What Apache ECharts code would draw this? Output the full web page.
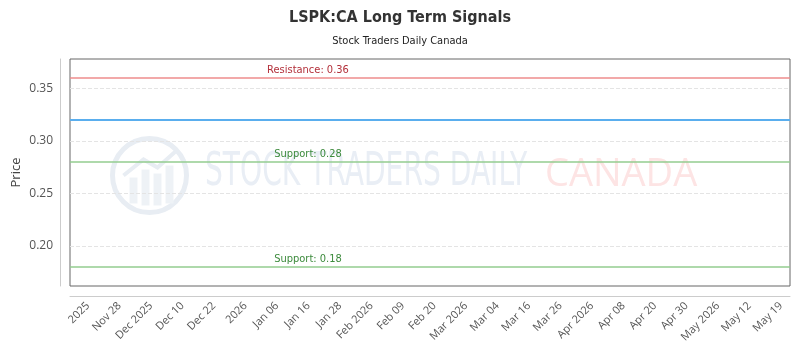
<!DOCTYPE html>
<html>
<head>
<meta charset="utf-8">
<script src="https://cdn.jsdelivr.net/npm/echarts@6/dist/echarts.min.js"></script>
<style>
  html, body { margin: 0; padding: 0; background: #fff; }
  #chart { width: 800px; height: 350px; }
</style>
</head>
<body>
<div id="chart"></div>
<script>
// tick labels as printed under the x axis
const tickLabels = ['2025', 'Nov 28', 'Dec 2025', 'Dec 10', 'Dec 22', '2026', 'Jan 06', 'Jan 16',
  'Jan 28', 'Feb 2026', 'Feb 09', 'Feb 20', 'Mar 2026', 'Mar 04', 'Mar 16', 'Mar 26',
  'Apr 2026', 'Apr 08', 'Apr 20', 'Apr 30', 'May 2026', 'May 12', 'May 19'];

// signal levels
const priceLevel = 0.32;
const levelNames = ['Resistance', 'Support', 'Support'];
const levelValues = [0.36, 0.28, 0.18];

// daily slots between labels (labels sit every 7th slot)
const slotsPerTick = 7;
const leadSlots = 4;
const tailSlots = 2;

const condensed = '"DejaVu Sans Condensed", Roboto, sans-serif';

const categories = [];
for (let i = 0; i < leadSlots; i += 1) categories.push(`_${categories.length}`);
tickLabels.forEach((label, idx) => {
  categories.push(label);
  if (idx < tickLabels.length - 1) {
    for (let j = 1; j < slotsPerTick; j += 1) categories.push(`_${categories.length}`);
  }
});
for (let i = 0; i < tailSlots; i += 1) categories.push(`_${categories.length}`);

const levelColors = {
  Resistance: { line: '#ee8c8c', text: '#b3303a' },
  Support: { line: '#93cc8f', text: '#3c8a3c' },
};

const markData = levelValues.map((v, i) => ({
  yAxis: v,
  lineStyle: { color: levelColors[levelNames[i]].line, width: 1.5, type: 'solid' },
  label: {
    show: true,
    formatter: `${levelNames[i]}: ${v.toFixed(2)}`,
    position: 'insideStartTop',
    distance: [238, 2],
    align: 'center',
    color: levelColors[levelNames[i]].text,
    fontSize: 11,
    fontFamily: condensed,
  },
}));
markData.push({
  yAxis: priceLevel,
  lineStyle: { color: '#5aaeee', width: 2, type: 'solid' },
  label: { show: false },
});

const myChart = echarts.init(document.getElementById('chart'));

const option = {
  animation: false,
  title: {
    text: 'LSPK:CA Long Term Signals',
    subtext: 'Stock Traders Daily Canada',
    left: 'center',
    top: 5,
    itemGap: 10,
    textStyle: { fontSize: 16, fontWeight: 'bold', color: '#333', fontFamily: condensed },
    subtextStyle: { fontSize: 11, color: '#222', fontFamily: condensed },
  },
  graphic: [
    {
      type: 'group',
      left: 110,
      top: 136,
      silent: true,
      z: 0,
      children: [
        { type: 'circle', shape: { cx: 40, cy: 40, r: 37 }, style: { fill: 'none', stroke: '#e8edf3', lineWidth: 5 } },
        { type: 'rect', shape: { x: 20, y: 42, width: 8, height: 26 }, style: { fill: '#eef2f6' } },
        { type: 'rect', shape: { x: 32, y: 34, width: 8, height: 36 }, style: { fill: '#eef2f6' } },
        { type: 'rect', shape: { x: 44, y: 38, width: 8, height: 32 }, style: { fill: '#eef2f6' } },
        { type: 'rect', shape: { x: 56, y: 30, width: 8, height: 38 }, style: { fill: '#eef2f6' } },
        { type: 'polyline', shape: { points: [[14, 40], [34, 24], [48, 32], [66, 16]] }, style: { stroke: '#e8edf3', lineWidth: 4, fill: 'none' } },
      ],
    },
    {
      type: 'text',
      x: 205,
      y: 150,
      scaleX: 0.68,
      silent: true,
      z: 0,
      style: { text: 'STOCK TRADERS DAILY', fontSize: 46, fontFamily: condensed, fill: '#e9eef5' },
    },
    {
      type: 'text',
      x: 545,
      y: 156,
      silent: true,
      z: 0,
      style: { text: 'CANADA', fontSize: 38, fontFamily: 'Open Sans', fill: '#fde4e4' },
    },
  ],
  grid: {
    left: 70,
    right: 10,
    top: 59,
    bottom: 64,
    outerBoundsMode: 'none',
    containLabel: false,
    show: true,
    borderColor: '#666',
    borderWidth: 1,
    backgroundColor: 'transparent',
  },
  xAxis: {
    type: 'category',
    data: categories,
    boundaryGap: false,
    offset: 10,
    axisLine: { show: true, lineStyle: { color: '#ccc' } },
    axisTick: { show: false },
    splitLine: { show: false },
    axisLabel: {
      interval(index, value) {
        return value.charAt(0) !== '_';
      },
      rotate: 45,
      margin: 8,
      color: '#555',
      fontSize: 11,
      fontFamily: 'Open Sans',
    },
  },
  yAxis: {
    type: 'value',
    min: 0.162,
    max: 0.378,
    offset: 10,
    name: 'Price',
    nameLocation: 'middle',
    nameGap: 37,
    nameMoveOverlap: false,
    nameTextStyle: { color: '#444', fontSize: 13, fontFamily: 'Open Sans' },
    axisLine: { show: true, lineStyle: { color: '#ccc' } },
    axisTick: { show: false },
    axisLabel: {
      showMinLabel: false,
      showMaxLabel: false,
      margin: 7,
      color: '#555',
      fontSize: 12,
      fontFamily: 'Open Sans',
      formatter(value) {
        return value.toFixed(2);
      },
    },
    splitLine: {
      show: true,
      showMinLine: false,
      showMaxLine: false,
      lineStyle: { color: '#e4e4e4', type: 'dashed' },
    },
  },
  series: [{
    type: 'line',
    data: [],
    markLine: {
      silent: true,
      symbol: 'none',
      animation: false,
      data: markData,
    },
  }],
};

myChart.setOption(option, true);
</script>
</body>
</html>
